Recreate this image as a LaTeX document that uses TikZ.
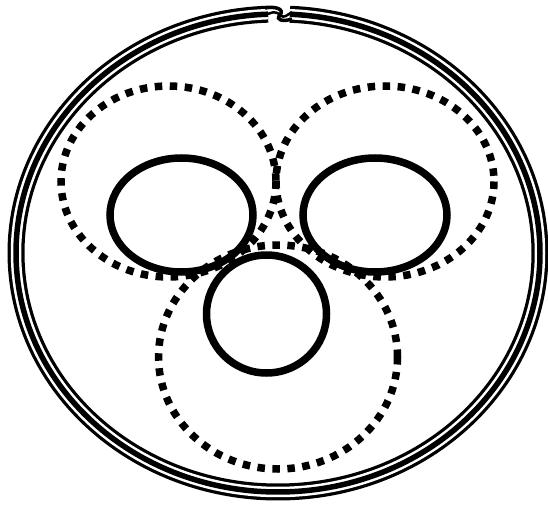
\documentclass[tikz,border=0pt]{standalone}
\usetikzlibrary{calc}

\begin{document}
\begin{tikzpicture}[x=1pt,y=-1pt,
  ring/.style={line width=7.5pt},
  dotring/.style={line width=7.5pt,dash pattern=on 7.5pt off 7.5pt},
  band/.style={line width=#1}]
\useasboundingbox (0,0) rectangle (548,505);
% outer triple band with the twist at the top
\foreach \w/\c in {17pt/black,10.5pt/white,5.5pt/black}
  \draw[band=\w,\c] (278,253) ++(92.2:262 and -239) arc[start angle=92.2,end angle=447.4,x radius=262,y radius=-239];
\draw[line width=3.5pt] (265,8) .. controls (275,6) and (285,9) .. (280,15) .. controls (275,20) and (283,22) .. (292,19);
\draw[line width=2.5pt] (265,15) .. controls (271,13) and (275,10) .. (280,15);
\draw[line width=2.5pt] (280,15) .. controls (284,19) and (287,15) .. (292,12);
% solid rings
\draw[ring] (181.5,215) ellipse[x radius=71.5,y radius=57];
\draw[ring] (375,215) ellipse[x radius=72,y radius=57];
\draw[ring] (266.5,314) ellipse[x radius=60,y radius=59];
% dotted rings
\draw[dotring] (168.5,181.5) ellipse[x radius=107.5,y radius=95.5];
\draw[dotring] (385,181.5) ellipse[x radius=109,y radius=95.5];
\draw[dotring] (278,357) ellipse[x radius=119.5,y radius=112];
\end{tikzpicture}
\end{document}
